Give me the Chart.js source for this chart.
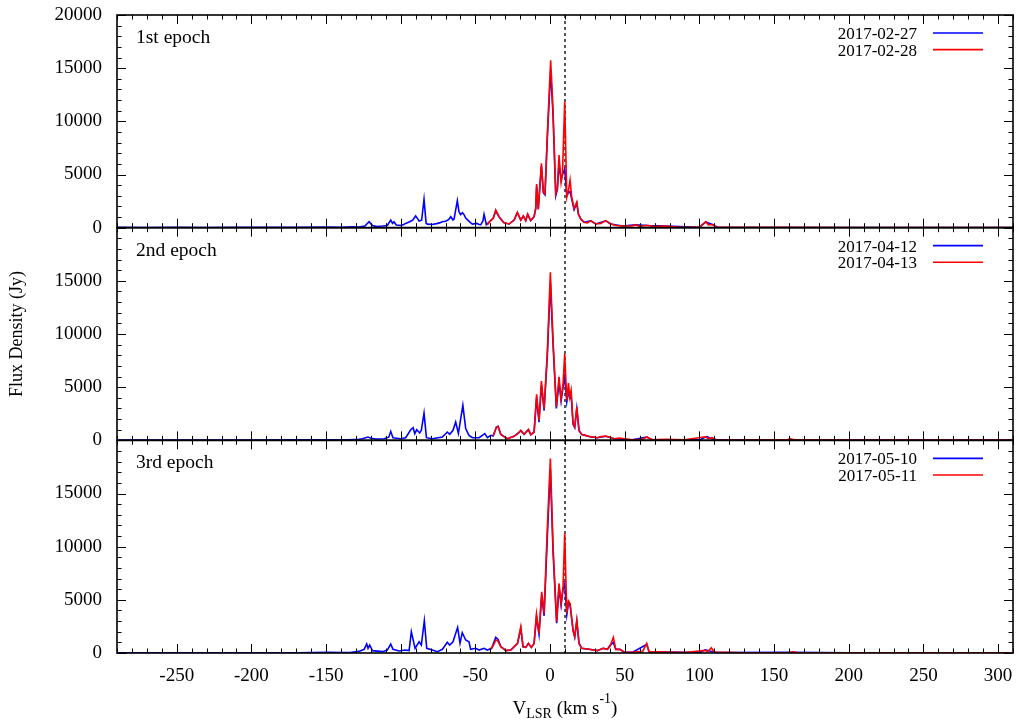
<!DOCTYPE html>
<html>
<head>
<meta charset="utf-8">
<script src="https://cdn.jsdelivr.net/npm/chart.js@4/dist/chart.umd.min.js"></script>
<style>
  html, body { margin: 0; padding: 0; background: #fff; }
  #wrap { position: relative; width: 1019px; height: 723px; }
</style>
</head>
<body>
<div id="wrap"><canvas id="graph" width="1019" height="723"></canvas></div>
<script>
// -------------------------
// LABELS / TICKS
// -------------------------
const epochNames = ["1st epoch", "2nd epoch", "3rd epoch"];
const epochDates = [
  ["2017-02-27", "2017-02-28"],
  ["2017-04-12", "2017-04-13"],
  ["2017-05-10", "2017-05-11"]
];
const xTicks = [-250, -200, -150, -100, -50, 0, 50, 100, 150, 200, 250, 300];
const yTicks = [0, 5000, 10000, 15000, 20000];
const vSys = 10;

// -------------------------
// SPECTRA (V_LSR km/s, flux Jy)
// -------------------------
// 1st epoch
const v1a = [-290, -270, -250, -230, -210, -190, -170, -150, -140, -132, -128, -124, -121.2, -119, -116, -112, -109, -106.7, -105.5, -104.5, -103, -100, -98, -96.7, -94, -92, -90, -88.5, -87.7, -86, -84.4, -83, -82, -79, -76, -74, -72.2, -70, -68, -66.5, -65, -64.3, -62.1, -61, -59.9, -58.8, -57.6, -56.5, -55.4, -53.5, -52, -49, -47.5, -46.4, -45, -44.2, -43, -42.7, -40.9, -38, -36.4, -34.1, -30.8, -27.4, -24.1, -21.9, -19.6, -17.9, -16.3, -15, -13, -10.7, -9.6, -9, -7.9, -5.8, -4.5, -3.4, -1.8, 0.4, 2, 3.8, 4.9, 6, 7.4, 8.3, 9.8, 11.2, 12.3, 13.4, 14.5, 16.1, 17.9, 19, 20.6, 22.8, 27.2, 30.6, 37.3, 40.6, 48.4, 57.3, 65, 77.5, 100, 104.3, 108.7, 112, 150, 200, 250, 310];
const f1a = [30, 20, 40, 20, 30, 40, 30, 50, 40, 80, 60, 150, 560, 200, 100, 150, 200, 720, 400, 560, 250, 200, 300, 400, 550, 700, 1100, 800, 630, 700, 2665, 400, 330, 300, 380, 450, 560, 600, 750, 1030, 720, 800, 2535, 1500, 1220, 1400, 1220, 900, 750, 500, 340, 400, 300, 280, 600, 1255, 500, 280, 500, 900, 1560, 1000, 470, 345, 720, 1400, 720, 1080, 660, 1250, 660, 1030, 1800, 3900, 1750, 5800, 3300, 3100, 8500, 14800, 10500, 3000, 3600, 6000, 4500, 5000, 5500, 3000, 3300, 3400, 2700, 1700, 2300, 1250, 800, 500, 640, 345, 640, 345, 160, 260, 200, 150, 30, 540, 290, 40, 20, 20, 20, 20];
const v1b = [-42, -40.9, -38, -36.4, -34.1, -32, -30.8, -27.4, -24.1, -21.9, -19.6, -17.9, -16.3, -15, -13, -10.7, -9.6, -9, -7.9, -5.8, -4.5, -3.4, -1.8, 0.4, 2, 3.8, 4.9, 6, 7.4, 8.3, 9.8, 11.2, 12.3, 13.4, 14.5, 16.1, 17.9, 19, 20.6, 22.8, 25, 27.2, 30.6, 34, 37.3, 40.6, 44.5, 48.4, 55, 57.3, 60, 65, 70, 77.5, 85, 100, 104.3, 106, 108.7, 111, 130, 160, 200, 250, 310];
const f1b = [250, 500, 900, 1660, 1030, 600, 470, 345, 720, 1440, 720, 1100, 660, 1280, 660, 1030, 1820, 4100, 1720, 6045, 3350, 3190, 8860, 15750, 11050, 3190, 3780, 6830, 4245, 5030, 11830, 2860, 3480, 4480, 2860, 1790, 2410, 1280, 810, 500, 450, 660, 345, 400, 660, 345, 200, 160, 160, 280, 120, 220, 100, 160, 60, 40, 560, 250, 300, 60, 30, 40, 20, 20, 20];

// 2nd epoch
const v2a = [-290, -260, -230, -200, -170, -150, -135, -128, -125.7, -121.9, -120, -116.8, -111.2, -108, -106.7, -105.2, -100, -96.7, -93.3, -91.7, -90.6, -89.3, -87.3, -86.2, -84.4, -82.8, -78.8, -72.1, -68.8, -67.2, -65, -63.2, -61.4, -58.4, -56.5, -54.3, -51.9, -47.5, -43.7, -42, -39.7, -38.2, -35.9, -34.8, -33, -28.6, -24.1, -19.6, -17.4, -14.5, -12.9, -10.7, -9, -7.4, -5.8, -4, -1.8, 0.2, 2, 4.2, 6, 7.4, 8.7, 9.8, 11.2, 12.3, 13.2, 14.1, 15.4, 16.5, 17.9, 19.4, 21.2, 26.1, 31.7, 37.3, 42.9, 55, 64.7, 68.5, 100, 105, 108, 112, 160, 200, 250, 310];
const f2a = [30, 20, 30, 20, 40, 50, 60, 100, 150, 313, 200, 125, 156, 300, 845, 250, 156, 250, 1000, 1190, 626, 1000, 690, 940, 2565, 250, 156, 313, 780, 563, 940, 1720, 660, 3290, 1100, 470, 250, 250, 626, 250, 470, 400, 1250, 1315, 560, 160, 380, 900, 560, 1000, 530, 780, 4000, 1700, 5200, 2800, 8000, 14800, 9000, 3000, 5500, 3700, 5000, 6000, 3600, 4600, 4000, 4300, 1500, 1200, 3000, 900, 540, 360, 240, 380, 150, 60, 300, 60, 40, 350, 150, 40, 50, 20, 20, 20];
const v2b = [-38, -35.9, -34.8, -33, -30, -28.6, -24.1, -21, -19.6, -17.4, -14.5, -12.9, -10.7, -9, -7.4, -5.8, -4, -1.8, 0.2, 2, 4.2, 6, 7.4, 8.7, 9.8, 11.2, 12.3, 13.2, 14.1, 15.4, 16.5, 17.9, 19.4, 21.2, 26.1, 31.7, 34, 37.3, 40, 42.9, 46.2, 55, 62, 64.7, 68.5, 77.5, 90, 104, 106, 108.5, 111, 130, 158, 161, 164, 200, 250, 310];
const f2b = [400, 1250, 1300, 563, 250, 156, 375, 700, 940, 563, 1030, 530, 780, 4320, 1880, 5570, 2970, 8450, 15800, 9390, 3130, 5950, 3910, 5320, 8140, 3760, 5380, 4070, 4700, 1570, 1250, 3130, 940, 563, 375, 250, 350, 400, 300, 156, 220, 60, 100, 313, 60, 90, 40, 330, 150, 250, 40, 30, 40, 150, 40, 20, 20, 20];

// 3rd epoch
const v3a = [-290, -260, -230, -200, -170, -148, -139, -134, -128, -126.8, -124.5, -122.8, -121.9, -120.8, -119, -112.2, -109, -106.7, -105.2, -101.1, -97.1, -94.4, -92.9, -90.4, -87.7, -86.2, -84.2, -82.6, -78.8, -75.5, -72.1, -68.8, -67.2, -65, -61.9, -60.3, -58.8, -56.5, -54.3, -53.2, -49.8, -47.5, -44.2, -42, -39.1, -36.4, -34.8, -33, -29.6, -26.3, -21.8, -19.6, -18.1, -16.3, -14.5, -12.5, -10.7, -9.1, -7.4, -5.6, -4, -1.8, 0.2, 2, 4.4, 6, 7.4, 8.7, 9.8, 11.2, 12.3, 13.4, 15.4, 16.5, 17.9, 19.4, 21.2, 26.1, 31.7, 35.5, 38.4, 40, 42.4, 44, 46.7, 49.5, 55, 64.7, 66.3, 77.5, 100, 104, 108, 112, 160, 200, 250, 310];
const f3a = [30, 20, 30, 20, 30, 60, 50, 40, 150, 220, 345, 845, 438, 750, 220, 125, 280, 845, 345, 190, 280, 220, 2000, 440, 1060, 750, 3035, 440, 280, 125, 345, 1000, 750, 1060, 2410, 910, 1910, 1220, 1060, 345, 440, 280, 440, 280, 440, 1470, 1280, 600, 220, 280, 900, 2300, 590, 530, 900, 530, 900, 3400, 1750, 5400, 3500, 11000, 17300, 9500, 2800, 6200, 4500, 6000, 6500, 3600, 4700, 4500, 2100, 1500, 3000, 900, 440, 345, 220, 440, 345, 700, 1000, 345, 345, 95, 60, 800, 125, 95, 40, 300, 150, 40, 60, 20, 20, 20];
const v3b = [-40, -38, -36.4, -35.3, -33, -29.6, -26.3, -21.8, -19.6, -18.1, -16.3, -14.5, -12.5, -10.7, -9.1, -7.4, -5.6, -4, -1.8, 0.2, 2, 4.4, 6, 7.4, 8.7, 9.8, 11.2, 12.3, 13.4, 15.4, 16.5, 17.9, 19.4, 21.2, 26.1, 31.7, 35.5, 38.4, 40, 42.4, 44, 46.7, 49.5, 55, 62, 64.7, 66.3, 77.5, 90, 104, 105.5, 108, 110, 130, 160, 163, 166, 200, 250, 310];
const f3b = [350, 700, 1200, 1220, 595, 220, 280, 910, 2470, 595, 530, 910, 530, 910, 3660, 1850, 5760, 3720, 11860, 18280, 10000, 2940, 6540, 4660, 6230, 11240, 3720, 4910, 4660, 2160, 1530, 3100, 910, 440, 345, 220, 440, 345, 595, 1470, 345, 345, 95, 60, 150, 910, 125, 95, 40, 250, 120, 500, 80, 30, 40, 120, 30, 20, 20, 20];

// -------------------------
// BUILD DATASETS
// -------------------------
function pts(v, f) {
  return v.map((x, i) => ({ x: x, y: f[i] }));
}

const panels = [
  { id: "y1", blue: [v1a, f1a], red: [v1b, f1b] },
  { id: "y2", blue: [v2a, f2a], red: [v2b, f2b] },
  { id: "y3", blue: [v3a, f3a], red: [v3b, f3b] }
];

const datasets = [];
panels.forEach((p, k) => {
  datasets.push({
    label: epochDates[k][0],
    data: pts(p.blue[0], p.blue[1]),
    yAxisID: p.id,
    borderColor: "#0000ff",
    borderWidth: 1.6,
    pointRadius: 0,
    tension: 0,
    order: 1
  });
  datasets.push({
    label: epochDates[k][1],
    data: pts(p.red[0], p.red[1]),
    yAxisID: p.id,
    borderColor: "#ff0000",
    borderWidth: 1.6,
    pointRadius: 0,
    tension: 0,
    order: 0
  });
});

const FONT = '"Liberation Serif", "Times New Roman", serif';

// -------------------------
// FRAME / TICKS / LABELS PLUGIN
// -------------------------
const framePlugin = {
  id: "frame",
  beforeDatasetsDraw(chart) {
    const ctx = chart.ctx;
    const x = chart.scales.x;
    const px = x.getPixelForValue(vSys);
    ctx.save();
    ctx.strokeStyle = "#000";
    ctx.lineWidth = 1.3;
    ctx.setLineDash([3, 3]);
    ctx.beginPath();
    ctx.moveTo(px, chart.chartArea.top);
    ctx.lineTo(px, chart.chartArea.bottom);
    ctx.stroke();
    ctx.restore();
  },
  afterDatasetsDraw(chart) {
    const ctx = chart.ctx;
    const x = chart.scales.x;
    ctx.save();
    panels.forEach((p, k) => {
      const y = chart.scales[p.id];
      const top = y.top, bottom = y.bottom, left = x.left, right = x.right;

      // ticks
      ctx.strokeStyle = "#000";
      ctx.lineWidth = 1;
      ctx.beginPath();
      for (let v = -290; v <= 310; v += 10) {
        const tx = Math.round(x.getPixelForValue(v)) + 0.5;
        const len = xTicks.includes(v) ? 9 : 4.5;
        ctx.moveTo(tx, bottom);
        ctx.lineTo(tx, bottom - len);
        ctx.moveTo(tx, top);
        ctx.lineTo(tx, top + len);
      }
      for (let f = 0; f <= 20000; f += 1000) {
        const ty = Math.round(y.getPixelForValue(f)) + 0.5;
        const len = yTicks.includes(f) ? 9 : 4.5;
        ctx.moveTo(left, ty);
        ctx.lineTo(left + len, ty);
        ctx.moveTo(right, ty);
        ctx.lineTo(right - len, ty);
      }
      ctx.stroke();

      // frame
      ctx.lineWidth = 1.6;
      ctx.strokeRect(left, top, right - left, bottom - top);

      // epoch label
      ctx.fillStyle = "#000";
      ctx.font = "19.5px " + FONT;
      ctx.textAlign = "left";
      ctx.textBaseline = "alphabetic";
      ctx.fillText(epochNames[k], left + 19, top + 28);

      // legend
      ctx.font = "17px " + FONT;
      ctx.textAlign = "right";
      const cols = ["#0000ff", "#ff0000"];
      epochDates[k].forEach((d, j) => {
        const cy = top + 18 + j * 16.6;
        ctx.fillText(d, right - 96, cy + 6);
        ctx.strokeStyle = cols[j];
        ctx.lineWidth = 1.6;
        ctx.beginPath();
        ctx.moveTo(right - 80, cy);
        ctx.lineTo(right - 30, cy);
        ctx.stroke();
      });
    });

    // x axis title: V_LSR (km s^-1)
    const parts = [
      { t: "V", f: "19px " + FONT, dy: 0 },
      { t: "LSR", f: "14px " + FONT, dy: 4 },
      { t: " (km s", f: "19px " + FONT, dy: 0 },
      { t: "-1", f: "14px " + FONT, dy: -11 },
      { t: ")", f: "19px " + FONT, dy: 0 }
    ];
    let total = 0;
    parts.forEach(p => { ctx.font = p.f; p.w = ctx.measureText(p.t).width; total += p.w; });
    let cx = (x.left + x.right) / 2 - total / 2;
    const base = 714;
    ctx.fillStyle = "#000";
    ctx.textAlign = "left";
    ctx.textBaseline = "alphabetic";
    parts.forEach(p => {
      ctx.font = p.f;
      ctx.fillText(p.t, cx, base + p.dy);
      cx += p.w;
    });
    ctx.restore();
  }
};

// -------------------------
// SCALES
// -------------------------
function yScale(id, weight, showTitle) {
  return {
    type: "linear",
    position: "left",
    stack: "panels",
    stackWeight: 1,
    weight: weight,
    min: 0,
    max: 20000,
    afterBuildTicks: s => { s.ticks = yTicks.map(v => ({ value: v })); },
    afterFit: s => { s.width = 117; s.paddingTop = 0; s.paddingBottom = 0; },
    grid: { display: false, drawTicks: false },
    border: { display: false },
    ticks: {
      padding: 15,
      color: "#000",
      font: { family: FONT, size: 19 },
      callback: v => (id !== "y1" && v === 20000) ? "" : String(v)
    },
    title: {
      display: showTitle,
      text: "Flux Density (Jy)",
      color: "#000",
      font: { family: FONT, size: 18 },
      padding: { top: 6, bottom: 0 }
    }
  };
}

new Chart(document.getElementById("graph"), {
  type: "line",
  data: { datasets: datasets },
  options: {
    responsive: false,
    animation: false,
    layout: { padding: { top: 15, right: 6, left: 0, bottom: 0 } },
    plugins: { legend: { display: false }, tooltip: { enabled: false } },
    scales: {
      x: {
        type: "linear",
        min: -290,
        max: 310,
        afterBuildTicks: s => { s.ticks = xTicks.map(v => ({ value: v })); },
        afterFit: s => { s.height = 70; s.paddingLeft = 0; s.paddingRight = 0; },
        grid: { display: false, drawTicks: false },
        border: { display: false },
        ticks: {
          padding: 12,
          color: "#000",
          maxRotation: 0,
          font: { family: FONT, size: 19 },
          callback: v => String(v)
        }
      },
      y1: yScale("y1", 3, false),
      y2: yScale("y2", 2, true),
      y3: yScale("y3", 1, false)
    }
  },
  plugins: [framePlugin]
});
</script>
</body>
</html>
